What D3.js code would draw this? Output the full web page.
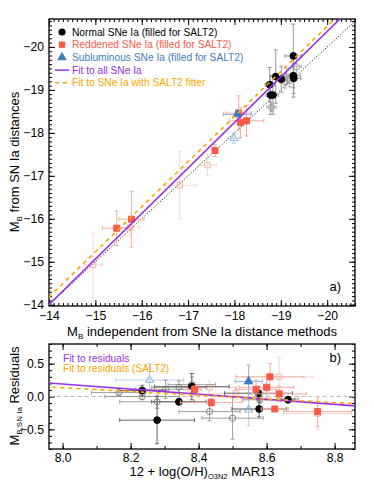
<!DOCTYPE html>
<html>
<head>
<meta charset="utf-8">
<script src="https://cdnjs.cloudflare.com/ajax/libs/d3/7.8.5/d3.min.js"></script>
<style>
body { margin: 0; background: #fff; }
svg { font-family: "Liberation Sans", Arial, sans-serif; }
</style>
</head>
<body>
<div id="chart"></div>
<script>
// panel a) points: [x, y, xerr, yerr]
var normalFilled = [[-19.27, -19.79, 0.18, 0.74], [-19.27, -19.33, 0.15, 0.5], [-19.28, -19.27, 0.15, 0.35],
    [-18.89, -19.31, 0.12, 0.62], [-19.01, -19.25, 0.1, 0.3], [-18.76, -19.12, 0.1, 0.4],
    [-18.78, -18.88, 0.1, 0.45], [-18.83, -18.88, 0.12, 0.45]];
var normalOpen = [[-19.12, -19.31, 0.1, 0.2], [-19.19, -19.22, 0.1, 0.15], [-19.34, -19.54, 0.1, 0.2],
    [-19.09, -19.19, 0.1, 0.15], [-18.8, -18.6, 0.1, 0.1]];
var reddenedFilled = [[-15.46, -15.78, 0.31, 0.4], [-15.78, -15.99, 0.27, 0.65], [-17.58, -17.59, 0.05, 0.14],
    [-18.13, -18.24, 0.05, 0.35], [-18.26, -18.28, 0.37, 0.35], [-18.09, -18.46, 0.28, 0.4]];
var reddenedOpen = [[-14.95, -14.93, 0.2, 0.76], [-15.75, -15.8, 0.2, 0.2], [-16.82, -16.78, 0.35, 0.78],
    [-17.42, -17.25, 0.2, 0.25]];
var sublumFilled = [[-18.06, -18.43, 0.3, 0.05]];
var sublumOpen = [[-17.99, -17.87, 0.13, 0.12]];

// fits in panel a): y = a + b*(x + 14)
var fitAll = [-14.0, 1.06];
var fitSalt2 = [-14.18, 1.05];

// panel b) points: [oh, resid, xerr, yerr]
var resNormalFilled = [[8.234, 0.09, 0.07, 0.08], [8.278, -0.36, 0.11, 0.36], [8.342, -0.08, 0.08, 0.05],
    [8.38, 0.15, 0.11, 0.2], [8.576, 0.05, 0.1, 0.1], [8.578, -0.19, 0.08, 0.12], [8.663, -0.05, 0.02, 0.03]];
var resNormalOpen = [[8.165, 0.06, 0.08, 0.04], [8.234, 0.0, 0.11, 0.05], [8.278, -0.08, 0.11, 0.1],
    [8.303, 0.11, 0.09, 0.14], [8.342, 0.14, 0.08, 0.1], [8.38, 0.18, 0.07, 0.12], [8.432, -0.23, 0.09, 0.14],
    [8.50, -0.33, 0.09, 0.32], [8.58, -0.05, 0.05, 0.05], [8.663, -0.04, 0.03, 0.04]];
var resReddenedFilled = [[8.388, 0.11, 0.02, 0.05], [8.437, -0.09, 0.09, 0.06], [8.569, 0.11, 0.06, 0.14],
    [8.60, 0.14, 0.08, 0.2], [8.61, 0.30, 0.1, 0.2], [8.637, 0.04, 0.08, 0.12], [8.624, -0.19, 0.04, 0.04],
    [8.75, -0.23, 0.1, 0.23]];
var resReddenedOpen = [[8.432, 0.14, 0.08, 0.1], [8.51, 0.05, 0.08, 0.1], [8.637, 0.30, 0.1, 0.3],
    [8.75, -0.26, 0.1, 0.25], [8.39, 0.11, 0.02, 0.1]];
var resSublumFilled = [[8.547, 0.23, 0.04, 0.25]];
var resSublumOpen = [[8.256, 0.25, 0.1, 0.25], [8.547, -0.2, 0.04, 0.25]];

// fits in panel b): y = c + m*(x - 8.4)
var resFitAll = [0.035, -0.387];
var resFitSalt2 = [0.020, -0.283];

var topTicks = [-14, -15, -16, -17, -18, -19, -20];
var ohTicks = [8.0, 8.2, 8.4, 8.6, 8.8];
var residTicks = [-0.5, 0.0, 0.5];

var legendA = ["Normal SNe Ia (filled for SALT2)", "Reddened SNe Ia (filled for SALT2)",
    "Subluminous SNe Ia (filled for SALT2)", "Fit to all SNe Ia", "Fit to SNe Ia with SALT2 fitter"];
var legendB = ["Fit to residuals", "Fit to residuals (SALT2)"];

var red = "#fa5a46", blue = "#3d7dbf", purple = "#9b30e6", orange = "#ffa500";

var svg = d3.select("#chart").append("svg").attr("width", 374).attr("height", 487);

var L = 49, R = 355;

function frame(g, x, y, w, h, xMajor, xMinor, yMajor, yMinor, xFmt, yFmt, pad) {
    g.append("g").attr("transform", "translate(0," + h + ")")
        .call(d3.axisBottom(x).tickValues(xMajor).tickSize(-6).tickPadding(pad).tickFormat(xFmt));
    g.append("g").attr("transform", "translate(0," + h + ")")
        .call(d3.axisBottom(x).tickValues(xMinor).tickSize(-3).tickFormat(""));
    g.append("g").call(d3.axisTop(x).tickValues(xMajor).tickSize(-6).tickFormat(""));
    g.append("g").call(d3.axisTop(x).tickValues(xMinor).tickSize(-3).tickFormat(""));
    g.append("g").call(d3.axisLeft(y).tickValues(yMajor).tickSize(-6).tickPadding(5).tickFormat(yFmt));
    g.append("g").call(d3.axisLeft(y).tickValues(yMinor).tickSize(-3).tickFormat(""));
    g.append("g").attr("transform", "translate(" + w + ",0)")
        .call(d3.axisRight(y).tickValues(yMajor).tickSize(-6).tickFormat(""));
    g.append("g").attr("transform", "translate(" + w + ",0)")
        .call(d3.axisRight(y).tickValues(yMinor).tickSize(-3).tickFormat(""));
    g.selectAll(".domain").remove();
    g.selectAll(".tick line").attr("stroke", "#000").attr("stroke-width", 1);
    g.selectAll(".tick text").attr("font-size", 12.2).attr("fill", "#000")
        .attr("font-family", "Liberation Sans, Arial, sans-serif");
    g.append("rect").attr("width", w).attr("height", h)
        .attr("fill", "none").attr("stroke", "#000").attr("stroke-width", 1.3);
}

function points(g, x, y, data, shape, size, fill, stroke, errColor, opacity) {
    var s = g.append("g").attr("opacity", opacity);
    var cap = 2;
    data.forEach(function(d) {
        var cx = x(d[0]), cy = y(d[1]);
        var x0 = x(d[0] - d[2]), x1 = x(d[0] + d[2]);
        var y0 = y(d[1] - d[3]), y1 = y(d[1] + d[3]);
        var e = s.append("g").attr("stroke", errColor).attr("stroke-width", 1);
        e.append("line").attr("x1", x0).attr("x2", x1).attr("y1", cy).attr("y2", cy);
        e.append("line").attr("x1", cx).attr("x2", cx).attr("y1", y0).attr("y2", y1);
        [x0, x1].forEach(function(v) {
            e.append("line").attr("x1", v).attr("x2", v).attr("y1", cy - cap).attr("y2", cy + cap);
        });
        [y0, y1].forEach(function(v) {
            e.append("line").attr("y1", v).attr("y2", v).attr("x1", cx - cap).attr("x2", cx + cap);
        });
    });
    s.selectAll("path.m").data(data).enter().append("path")
        .attr("class", "m")
        .attr("d", d3.symbol().type(shape).size(size))
        .attr("transform", function(d) { return "translate(" + x(d[0]) + "," + y(d[1]) + ")"; })
        .attr("fill", fill).attr("stroke", stroke).attr("stroke-width", 1);
}

// ---------- panel a)
var hA = 306 - 19, wA = R - L;
var gA = svg.append("g").attr("transform", "translate(" + L + ",19)");
var xA = d3.scaleLinear().domain([-14, -20.6]).range([0, wA]);
var yA = d3.scaleLinear().domain([-13.97, -20.65]).range([hA, 0]);

svg.append("clipPath").attr("id", "clipA").append("rect").attr("width", wA).attr("height", hA);
svg.append("clipPath").attr("id", "clipB").append("rect").attr("width", R - L).attr("height", 105);

var fmt0 = d3.format("d");
frame(gA, xA, yA, wA, hA, topTicks, d3.range(-14, -20.61, -0.1), topTicks, d3.range(-14, -20.61, -0.1), fmt0, fmt0, 5);

var plotA = gA.append("g").attr("clip-path", "url(#clipA)");
var lineA = d3.line().x(function(d) { return xA(d[0]); }).y(function(d) { return yA(d[1]); });
var xsA = [-13.5, -21];
plotA.append("path").attr("d", lineA(xsA.map(function(v) { return [v, v]; })))
    .attr("stroke", "#000").attr("stroke-width", 1).attr("stroke-dasharray", "1,2").attr("fill", "none");

points(plotA, xA, yA, reddenedOpen, d3.symbolSquare, 30, "none", red, "#f4a89c", 0.45);
points(plotA, xA, yA, sublumOpen, d3.symbolTriangle, 28, "none", blue, "#8fb6de", 0.55);
points(plotA, xA, yA, normalOpen, d3.symbolCircle, 30, "none", "#777", "#999", 0.7);
points(plotA, xA, yA, normalFilled, d3.symbolCircle, 36, "#000", "#000", "#999", 1);
points(plotA, xA, yA, reddenedFilled, d3.symbolSquare, 36, red, red, "#f7b0a4", 1);
points(plotA, xA, yA, sublumFilled, d3.symbolTriangle, 32, blue, blue, "#8fb6de", 1);

plotA.append("path").attr("d", lineA(xsA.map(function(v) { return [v, fitAll[0] + fitAll[1] * (v + 14)]; })))
    .attr("stroke", purple).attr("stroke-width", 1.6).attr("fill", "none");
plotA.append("path").attr("d", lineA(xsA.map(function(v) { return [v, fitSalt2[0] + fitSalt2[1] * (v + 14)]; })))
    .attr("stroke", orange).attr("stroke-width", 1.6).attr("stroke-dasharray", "4,4").attr("fill", "none");

// legend a)
var legColors = ["#000", red, blue, purple, orange];
var legShapes = [d3.symbolCircle, d3.symbolSquare, d3.symbolTriangle];
var leg = gA.append("g").attr("transform", "translate(13,13)");
legendA.forEach(function(t, i) {
    var row = leg.append("g").attr("transform", "translate(0," + (i * 12.7) + ")");
    if (i < 3) {
        row.append("path").attr("d", d3.symbol().type(legShapes[i]).size(40)).attr("fill", legColors[i]);
    } else {
        row.append("line").attr("x1", -7).attr("x2", 7).attr("stroke", legColors[i]).attr("stroke-width", 1.5)
            .attr("stroke-dasharray", i == 4 ? "4,4" : null);
    }
    row.append("text").attr("x", 10).attr("y", 3.5).attr("font-size", 10.2).attr("fill", legColors[i]).text(t);
});
gA.append("text").attr("x", wA - 14).attr("y", hA - 15).attr("text-anchor", "end")
    .attr("font-size", 13).text("a)");

// axis titles a)
var tA = svg.append("text").attr("x", 202).attr("y", 336).attr("text-anchor", "middle").attr("font-size", 13);
tA.append("tspan").text("M");
tA.append("tspan").attr("font-size", 8).attr("dy", 3).text("B");
tA.append("tspan").attr("dy", -3).text(" independent from SNe Ia distance methods");

var tyA = svg.append("text").attr("transform", "translate(19,162) rotate(-90)")
    .attr("text-anchor", "middle").attr("font-size", 13);
tyA.append("tspan").text("M");
tyA.append("tspan").attr("font-size", 8).attr("dy", 3).text("B");
tyA.append("tspan").attr("dy", -3).text(" from SN Ia distances");

// ---------- panel b)
var hB = 105, wB = R - L;
var gB = svg.append("g").attr("transform", "translate(" + L + ",344)");
var xB = d3.scaleLinear().domain([7.96, 8.86]).range([0, wB]);
var yB = d3.scaleLinear().domain([-0.8, 0.8]).range([hB, 0]);

frame(gB, xB, yB, wB, hB, ohTicks, d3.range(8.0, 8.86, 0.1), residTicks, d3.range(-0.8, 0.81, 0.1),
    d3.format(".1f"), d3.format(".1f"), 4);

var plotB = gB.append("g").attr("clip-path", "url(#clipB)");
var lineB = d3.line().x(function(d) { return xB(d[0]); }).y(function(d) { return yB(d[1]); });
var xsB = [7.9, 8.9];
plotB.append("path").attr("d", lineB(xsB.map(function(v) { return [v, 0]; })))
    .attr("stroke", "#bbb").attr("stroke-width", 1.2).attr("stroke-dasharray", "4,3").attr("fill", "none");

points(plotB, xB, yB, resReddenedOpen, d3.symbolSquare, 30, "none", red, "#f4a89c", 0.45);
points(plotB, xB, yB, resSublumOpen, d3.symbolTriangle, 28, "none", blue, "#8fb6de", 0.6);
points(plotB, xB, yB, resNormalOpen, d3.symbolCircle, 30, "none", "#666", "#888", 0.8);
points(plotB, xB, yB, resNormalFilled, d3.symbolCircle, 36, "#000", "#000", "#666", 1);
points(plotB, xB, yB, resReddenedFilled, d3.symbolSquare, 36, red, red, "#f7b0a4", 1);
points(plotB, xB, yB, resSublumFilled, d3.symbolTriangle, 32, blue, blue, "#8fb6de", 1);

plotB.append("path").attr("d", lineB(xsB.map(function(v) { return [v, resFitAll[0] + resFitAll[1] * (v - 8.4)]; })))
    .attr("stroke", purple).attr("stroke-width", 1.6).attr("fill", "none");
plotB.append("path").attr("d", lineB(xsB.map(function(v) { return [v, resFitSalt2[0] + resFitSalt2[1] * (v - 8.4)]; })))
    .attr("stroke", orange).attr("stroke-width", 1.6).attr("stroke-dasharray", "4,4").attr("fill", "none");

legendB.forEach(function(t, i) {
    gB.append("text").attr("x", 14).attr("y", 18 + i * 10).attr("font-size", 10.2)
        .attr("fill", [purple, orange][i]).text(t);
});
gB.append("text").attr("x", wB - 14).attr("y", 18).attr("text-anchor", "end")
    .attr("font-size", 13).text("b)");

var tB = svg.append("text").attr("x", 202).attr("y", 476).attr("text-anchor", "middle").attr("font-size", 13);
tB.append("tspan").text("12 + log(O/H)");
tB.append("tspan").attr("font-size", 7.5).attr("dy", 3).text("O3N2");
tB.append("tspan").attr("dy", -3).text(" MAR13");

var tyB = svg.append("text").attr("transform", "translate(19,396) rotate(-90)")
    .attr("text-anchor", "middle").attr("font-size", 13);
tyB.append("tspan").text("M");
tyB.append("tspan").attr("font-size", 8).attr("dy", 3).text("B,SN Ia");
tyB.append("tspan").attr("dy", -3).text(" Residuals");
</script>
</body>
</html>
